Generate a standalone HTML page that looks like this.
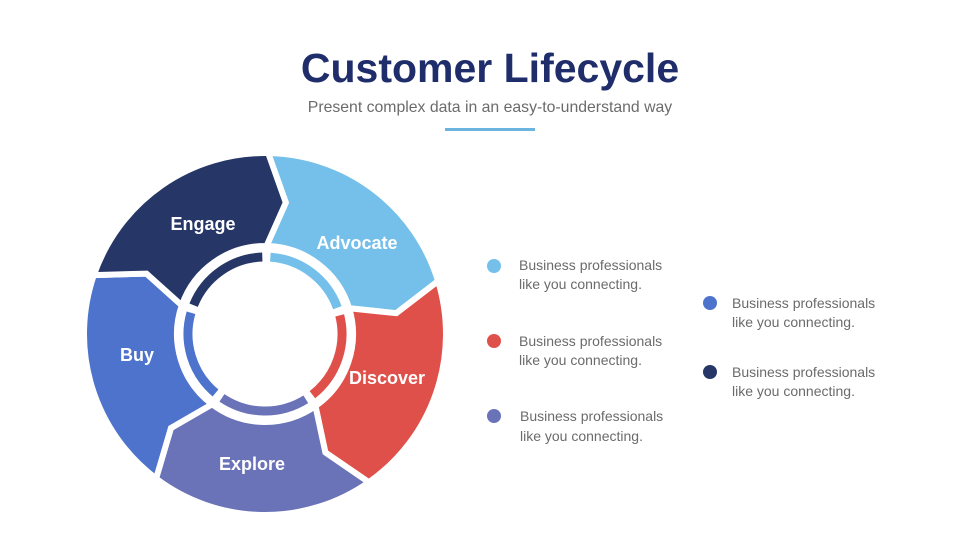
<!DOCTYPE html>
<html><head><meta charset="utf-8"><style>
body{margin:0;width:980px;height:551px;background:#fff;overflow:hidden;font-family:"Liberation Sans",sans-serif;}
</style></head><body>
<svg id="s" width="980" height="551" viewBox="0 0 980 551" xmlns="http://www.w3.org/2000/svg">
<text x="490" y="82" text-anchor="middle" font-family="Liberation Sans, sans-serif" font-weight="bold" font-size="41" fill="#1f2e6b">Customer Lifecycle</text>
<text x="490" y="112" text-anchor="middle" font-family="Liberation Sans, sans-serif" font-size="15.8" fill="#6b6b6b">Present complex data in an easy-to-understand way</text>
<rect x="445" y="128" width="90" height="3" fill="#6cb4e0"/>
<g id="wheel"></g>
<g font-family="Liberation Sans, sans-serif" font-weight="bold" font-size="18" fill="#fff" text-anchor="middle">
<text x="203" y="230">Engage</text>
<text x="357" y="249">Advocate</text>
<text x="387" y="384">Discover</text>
<text x="252" y="470">Explore</text>
<text x="137" y="361">Buy</text>
</g>
<g font-family="Liberation Sans, sans-serif" font-size="14" fill="#6b6b6b">
<circle cx="494" cy="266" r="7" fill="#74c0ea"/>
<text x="519" y="270">Business professionals</text><text x="519" y="289">like you connecting.</text>
<circle cx="494" cy="341" r="7" fill="#e0504a"/>
<text x="519" y="346">Business professionals</text><text x="519" y="365">like you connecting.</text>
<circle cx="494" cy="416" r="7" fill="#6a72b8"/>
<text x="520" y="421">Business professionals</text><text x="520" y="441">like you connecting.</text>
<circle cx="710" cy="303" r="7" fill="#4e73cc"/>
<text x="732" y="308">Business professionals</text><text x="732" y="327">like you connecting.</text>
<circle cx="710" cy="372" r="7" fill="#263767"/>
<text x="732" y="377">Business professionals</text><text x="732" y="396">like you connecting.</text>
</g>
</svg>
<script>
(function(){
var cx=265,cy=334,R=181,ri=88,rm=133,off=8;
var cols=["#74c0ea","#e0504a","#6a72b8","#4e73cc","#263767"];
function p(r,a){a=a*Math.PI/180;return [(cx+r*Math.sin(a)).toFixed(2),(cy-r*Math.cos(a)).toFixed(2)];}
var g=document.getElementById("wheel"),h="";
for(var k=0;k<5;k++){
 var a0=1+72*k,a1=a0+72;
 var i0=p(ri,a0),m0=p(rm,a0+off),o0=p(R,a0),o1=p(R,a1),m1=p(rm,a1+off),i1=p(ri,a1);
 var d="M"+i0+" L"+m0+" L"+o0+" A"+R+" "+R+" 0 0 1 "+o1+" L"+m1+" L"+i1+" A"+ri+" "+ri+" 0 0 0 "+i0+" Z";
 h+='<path d="'+d+'" fill="'+cols[k]+'" stroke="#fff" stroke-width="6" stroke-linejoin="miter"/>';
 var r2=77,b0=p(r2,a0+3),b1=p(r2,a1-3);
 h+='<path d="M'+b0+' A'+r2+' '+r2+' 0 0 1 '+b1+'" fill="none" stroke="'+cols[k]+'" stroke-width="9"/>';
}
g.innerHTML=h;
})();
</script>
</body></html>
